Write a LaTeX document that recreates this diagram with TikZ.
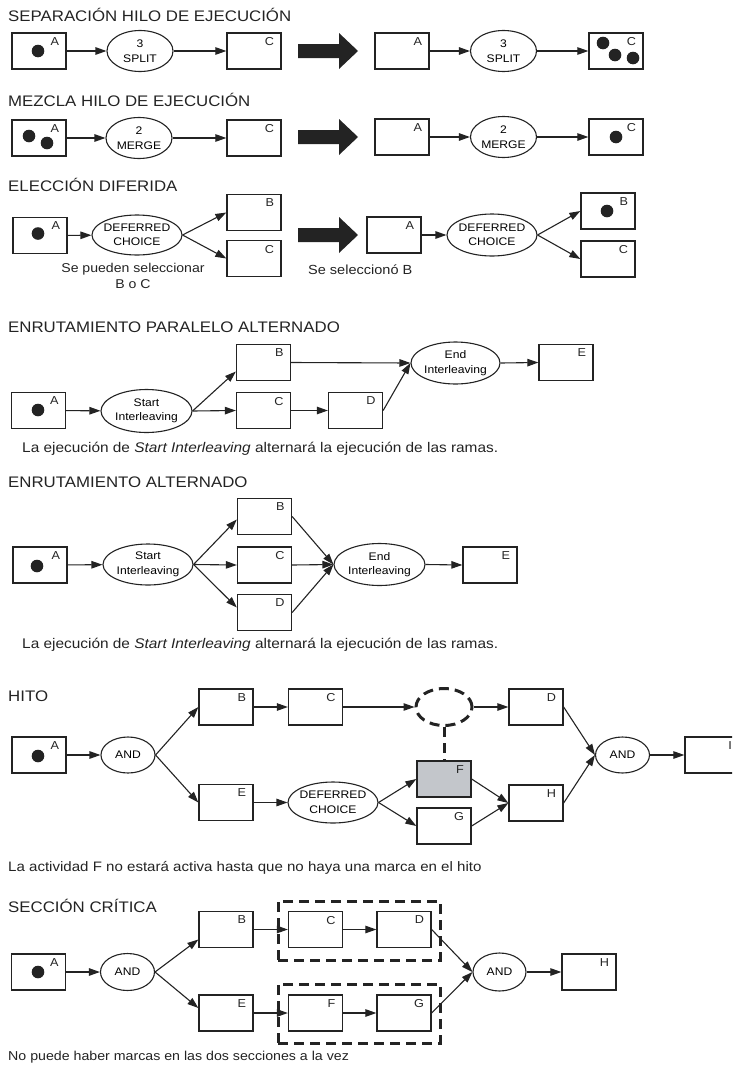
\documentclass[tikz,border=0pt]{standalone}
\usepackage{fontspec}
\setmainfont{Liberation Sans}[FakeStretch=1.1]
\usetikzlibrary{arrows.meta,shapes.geometric}
\definecolor{fgray}{RGB}{195,198,203}
\definecolor{ink}{RGB}{35,35,35}
\newcommand{\nodefnt}{\fontsize{11}{14.5}\selectfont}
\newcommand{\titlefnt}{\fontsize{15.3}{18}\selectfont}
\newcommand{\capfnt}{\fontsize{12}{16}\selectfont}
\newcommand{\labfnt}{\fontsize{11.5}{13}\selectfont}
\newcommand{\bigarrow}[2]{\fill[ink] (#1,#2-7) -- (#1+41,#2-7) -- (#1+41,#2-18) -- (#1+60,#2) -- (#1+41,#2+18) -- (#1+41,#2+7) -- (#1,#2+7) -- cycle;}
\newcommand{\tok}[3]{\fill[ink] ([xshift=#2pt,yshift=#3pt]#1.center) circle (6.3pt);}
\tikzset{
 box/.style={draw=ink, line width=1.3pt, rectangle, minimum width=54pt, minimum height=36pt, inner sep=0pt},
 ell/.style={draw=ink, line width=1.1pt, ellipse, inner xsep=-8pt, inner ysep=-5pt, align=center, font=\nodefnt},
 lab/.style={anchor=north east, inner sep=0pt, xshift=-7.5pt, yshift=-5pt, font=\labfnt, text=ink},
 conn/.style={draw=ink, line width=1.1pt, -{Triangle[length=11pt,width=7.5pt]}},
 ttl/.style={anchor=base west, inner sep=0pt, font=\titlefnt, text=ink},
 captxt/.style={anchor=base west, inner sep=0pt, font=\capfnt, text=ink},
 dashline/.style={draw=ink, line width=3pt, dash pattern=on 10pt off 6pt},
}
\begin{document}
\begin{tikzpicture}[x=1pt,y=-1pt]
\clip (0,0) rectangle (732,1074);

% ---------- SEPARACION ----------
\node[ttl] (t1) at (8,21) {SEPARACIÓN HILO DE EJECUCIÓN};
\node[box, label={[lab]north east:A}] (A1) at (39,51) {};
\node[ell, minimum width=66pt, minimum height=41pt] (S1) at (140,51) {3\\SPLIT};
\node[box, label={[lab]north east:C}] (C1) at (254,51) {};
\tok{A1}{-1}{0}
\draw[conn] (A1) -- (S1);
\draw[conn] (S1) -- (C1);
\bigarrow{298}{51}
\node[box, label={[lab]north east:A}] (A1r) at (402,51) {};
\node[ell, minimum width=66pt, minimum height=41pt] (S1r) at (503.5,51) {3\\SPLIT};
\node[box, label={[lab]north east:C}] (C1r) at (616,51) {};
\tok{C1r}{-13}{8}
\tok{C1r}{-1}{-4}
\tok{C1r}{17}{-7}
\draw[conn] (A1r) -- (S1r);
\draw[conn] (S1r) -- (C1r);

% ---------- MEZCLA ----------
\node[ttl] (t2) at (8,106) {MEZCLA HILO DE EJECUCIÓN};
\node[box, label={[lab]north east:A}] (A2) at (39,138) {};
\node[ell, minimum width=66pt, minimum height=41pt] (M2) at (139,138) {2\\MERGE};
\node[box, label={[lab]north east:C}] (C2) at (254,138) {};
\tok{A2}{-10}{2}
\tok{A2}{8}{-5}
\draw[conn] (A2) -- (M2);
\draw[conn] (M2) -- (C2);
\bigarrow{298}{137}
\node[box, label={[lab]north east:A}] (A2r) at (402,137) {};
\node[ell, minimum width=66pt, minimum height=41pt] (M2r) at (503.5,137) {2\\MERGE};
\node[box, label={[lab]north east:C}] (C2r) at (616,137) {};
\tok{C2r}{0}{0}
\draw[conn] (A2r) -- (M2r);
\draw[conn] (M2r) -- (C2r);

% ---------- ELECCION DIFERIDA ----------
\node[ttl] (t3) at (8,191) {ELECCIÓN DIFERIDA};
\node[box, label={[lab]north east:A}] (A3) at (40,235.5) {};
\node[ell, minimum width=90pt, minimum height=40pt] (D3) at (137,235) {DEFERRED\\CHOICE};
\node[box, label={[lab]north east:B}] (B3) at (254,212.5) {};
\node[box, label={[lab]north east:C}] (C3) at (254,258.5) {};
\tok{A3}{-2}{2}
\draw[conn] (A3) -- (D3);
\draw[conn] (D3.east) -- (B3.west);
\draw[conn] (D3.east) -- (C3.west);
\node[font=\fontsize{12.8}{16}\selectfont, inner sep=0pt, anchor=base, text=ink] (cp3a) at (133,272) {Se pueden seleccionar};
\node[font=\fontsize{12.8}{16}\selectfont, inner sep=0pt, anchor=base, text=ink] (cp3b) at (133,288) {B o C};
\bigarrow{298}{235}
\node[captxt, font=\fontsize{13.2}{16}\selectfont] (cp3c) at (308,274.5) {Se seleccionó B};
\node[box, label={[lab]north east:A}] (A3r) at (394,235) {};
\node[ell, minimum width=90pt, minimum height=42pt] (D3r) at (492,235) {DEFERRED\\CHOICE};
\node[box, label={[lab]north east:B}] (B3r) at (608,211) {};
\node[box, label={[lab]north east:C}] (C3r) at (608,259) {};
\tok{B3r}{-1}{0}
\draw[conn] (A3r) -- (D3r);
\draw[conn] (D3r.east) -- (B3r.west);
\draw[conn] (D3r.east) -- (C3r.west);

% ---------- ENRUTAMIENTO PARALELO ALTERNADO ----------
\node[ttl] (t4) at (8,332) {ENRUTAMIENTO PARALELO ALTERNADO};
\node[box, label={[lab]north east:A}] (A4) at (38.5,410.5) {};
\node[ell, minimum width=91pt, minimum height=43pt] (S4) at (146.5,411) {Start\\Interleaving};
\node[box, label={[lab]north east:B}] (B4) at (263.5,362.5) {};
\node[box, label={[lab]north east:C}] (C4) at (263.5,410.5) {};
\node[box, label={[lab]north east:D}] (D4) at (355.5,410.5) {};
\node[ell, minimum width=89pt, minimum height=42pt] (N4) at (455.5,363) {End\\Interleaving};
\node[box, label={[lab]north east:E}] (E4) at (566,362.5) {};
\tok{A4}{-0.5}{0.5}
\draw[conn] (A4) -- (S4);
\draw[conn] (S4.east) -- ([yshift=-9pt]B4.west);
\draw[conn] (S4.east) -- (C4.west);
\draw[conn] (C4) -- (D4);
\draw[conn] (B4.east) -- (N4.west);
\draw[conn] (D4.east) -- (N4.west);
\draw[conn] (N4.east) -- (E4.west);
\node[captxt, font=\fontsize{14}{16}\selectfont] (cp4) at (22,452) {La ejecución de \textit{Start Interleaving} alternará la ejecución de las ramas.};

% ---------- ENRUTAMIENTO ALTERNADO ----------
\node[ttl] (t5) at (8,487) {ENRUTAMIENTO ALTERNADO};
\node[box, label={[lab]north east:A}] (A5) at (40,565) {};
\node[ell, minimum width=90pt, minimum height=41pt] (S5) at (148,564.5) {Start\\Interleaving};
\node[box, label={[lab]north east:B}] (B5) at (264.5,516.5) {};
\node[box, label={[lab]north east:C}] (C5) at (264.5,565) {};
\node[box, label={[lab]north east:D}] (D5) at (264.5,612.5) {};
\node[ell, minimum width=91pt, minimum height=42pt] (N5) at (379.5,564.5) {End\\Interleaving};
\node[box, label={[lab]north east:E}] (E5) at (490,565) {};
\tok{A5}{-3}{-1}
\draw[conn] (A5) -- (S5);
\draw[conn] (S5.east) -- ([yshift=-3pt]B5.west);
\draw[conn] (S5.east) -- (C5.west);
\draw[conn] (S5.east) -- ([yshift=5pt]D5.west);
\draw[conn] (B5.east) -- (N5.west);
\draw[conn] (C5.east) -- (N5.west);
\draw[conn] (D5.east) -- (N5.west);
\draw[conn] (N5.east) -- (E5.west);
\node[captxt, font=\fontsize{14}{16}\selectfont] (cp5) at (22,648) {La ejecución de \textit{Start Interleaving} alternará la ejecución de las ramas.};

% ---------- HITO ----------
\node[ttl] (t6) at (8,701) {HITO};
\node[box, label={[lab]north east:A}] (A6) at (39,755) {};
\node[ell, minimum width=54pt, minimum height=36pt] (P6) at (128,755) {AND};
\node[box, label={[lab]north east:B}] (B6) at (226,707) {};
\node[box, label={[lab]north east:C}] (C6) at (315.5,707) {};
\node[box, label={[lab]north east:E}] (E6) at (226,802.5) {};
\node[ell, minimum width=90pt, minimum height=41pt] (DC6) at (333,802.5) {DEFERRED\\CHOICE};
\node[ellipse, minimum width=56pt, minimum height=37pt, inner sep=0pt, dashline] (H0) at (444,707) {};
\node[box, label={[lab]north east:D}] (D6) at (536,707) {};
\node[box, fill=fgray, label={[lab]north east:F}] (F6) at (444,779) {};
\node[box, label={[lab]north east:G}] (G6) at (444,826) {};
\node[box, label={[lab]north east:H}] (H6) at (536,803) {};
\node[ell, minimum width=54pt, minimum height=36pt] (Q6) at (622.5,755) {AND};
\node[box, label={[lab]north east:I}] (I6) at (712,755) {};
\tok{A6}{-1}{-1}
\draw[conn] (A6) -- (P6);
\draw[conn] (P6.east) -- (B6.west);
\draw[conn] (P6.east) -- (E6.west);
\draw[conn] (B6) -- (C6);
\draw[conn] (C6) -- (H0);
\draw[conn] (H0) -- (D6);
\draw[conn] (E6) -- (DC6);
\draw[conn] (DC6.east) -- (F6.west);
\draw[conn] (DC6.east) -- (G6.west);
\draw[conn] (F6.east) -- (H6.west);
\draw[conn] (G6.east) -- (H6.west);
\draw[conn] (D6.east) -- (Q6.west);
\draw[conn] (H6.east) -- (Q6.west);
\draw[conn] (Q6) -- (I6);
\draw[dashline] (H0.south) -- (F6.north);
\node[captxt, font=\fontsize{13.7}{16}\selectfont] (cp6) at (8,871) {La actividad F no estará activa hasta que no haya una marca en el hito};

% ---------- SECCION CRITICA ----------
\node[ttl] (t7) at (8,912) {SECCIÓN CRÍTICA};
\node[rectangle, dashline, minimum width=162pt, minimum height=59pt, inner sep=0pt] (R1) at (359,930.5) {};
\node[rectangle, dashline, minimum width=162pt, minimum height=59pt, inner sep=0pt] (R2) at (359,1013.5) {};
\node[box, label={[lab]north east:A}] (A7) at (38.5,972) {};
\node[ell, minimum width=54pt, minimum height=37pt] (P7) at (127.5,972) {AND};
\node[box, label={[lab]north east:B}] (B7) at (226,929.5) {};
\node[box, label={[lab]north east:C}] (C7) at (315.5,929.5) {};
\node[box, label={[lab]north east:D}] (D7) at (404,929.5) {};
\node[box, label={[lab]north east:E}] (E7) at (226,1013) {};
\node[box, label={[lab]north east:F}] (F7) at (315.5,1013) {};
\node[box, label={[lab]north east:G}] (G7) at (404,1013) {};
\node[ell, minimum width=53pt, minimum height=38pt] (Q7) at (499.5,972) {AND};
\node[box, label={[lab]north east:H}] (H7) at (589,972) {};
\tok{A7}{-0.5}{0}
\draw[conn] (A7) -- (P7);
\draw[conn] (P7.east) -- ([yshift=-10pt]B7.west);
\draw[conn] (P7.east) -- ([yshift=5pt]E7.west);
\draw[conn] (B7) -- (C7);
\draw[conn] (C7) -- (D7);
\draw[conn] (E7) -- (F7);
\draw[conn] (F7) -- (G7);
\draw[conn] (D7.east) -- (Q7.west);
\draw[conn] (G7.east) -- (Q7.west);
\draw[conn] (Q7) -- (H7);
\node[captxt, font=\fontsize{12.9}{16}\selectfont] (cp7) at (8,1060) {No puede haber marcas en las dos secciones a la vez};
\end{tikzpicture}
\end{document}
